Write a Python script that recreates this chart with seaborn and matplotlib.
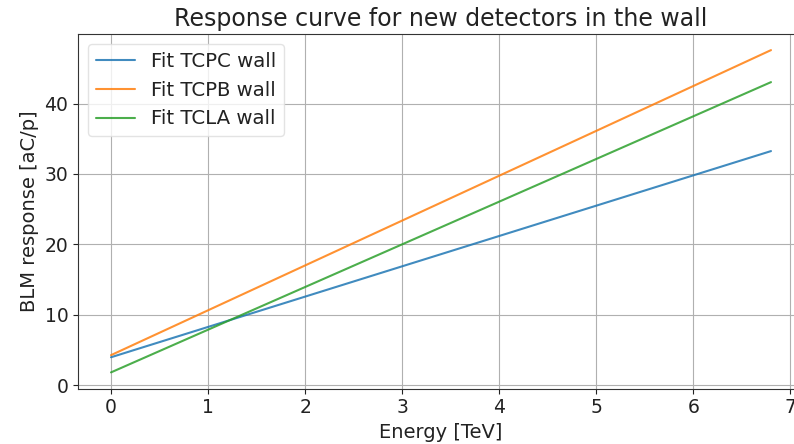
import matplotlib
matplotlib.use("Agg")
import matplotlib.pyplot as plt
import seaborn as sns
import pandas as pd

energy = [0.0, 6.8]
tcpc = [3.95, 33.25]
tcpb = [4.25, 47.6]
tcla = [1.8, 43.05]
labels = ["Fit TCPC wall", "Fit TCPB wall", "Fit TCLA wall"]

rows = []
for lab, vals in zip(labels, [tcpc, tcpb, tcla]):
    for e, v in zip(energy, vals):
        rows.append({"Energy": e, "Response": v, "Series": lab})
df = pd.DataFrame(rows)

sns.set_style("ticks")
plt.rcParams['font.family'] = ['DejaVu Sans']
fig = plt.figure(figsize=(7.94, 4.44), dpi=100)
ax = fig.add_axes([78/794, 1 - 388.5/444, (804 - 78)/794, (388.5 - 34)/444])
palette = ["#1f77b4", "#ff7f0e", "#2ca02c"]
sns.lineplot(data=df, x="Energy", y="Response", hue="Series", palette=palette,
             ax=ax, linewidth=1.5, alpha=0.85)
ax.grid(True, color="#b0b0b0", linewidth=0.8)
ax.set_xticks(range(0, 8))
ax.set_yticks([0, 10, 20, 30, 40])
ax.tick_params(labelsize=13.5, colors="#222222")
ax.set_xlabel("Energy [TeV]", fontsize=14, color="#222222")
ax.set_ylabel("BLM response [aC/p]", fontsize=14, color="#222222")
ax.set_title("Response curve for new detectors in the wall", fontsize=17, color="#222222")
for s in ax.spines.values():
    s.set_visible(True)
    s.set_color("#333333")
leg = ax.legend(fontsize=14.2, loc="upper left", frameon=True)
leg.get_frame().set_edgecolor("#dddddd")
for t in leg.get_texts():
    t.set_color("#222222")
fig.savefig("out.png", dpi=100)
